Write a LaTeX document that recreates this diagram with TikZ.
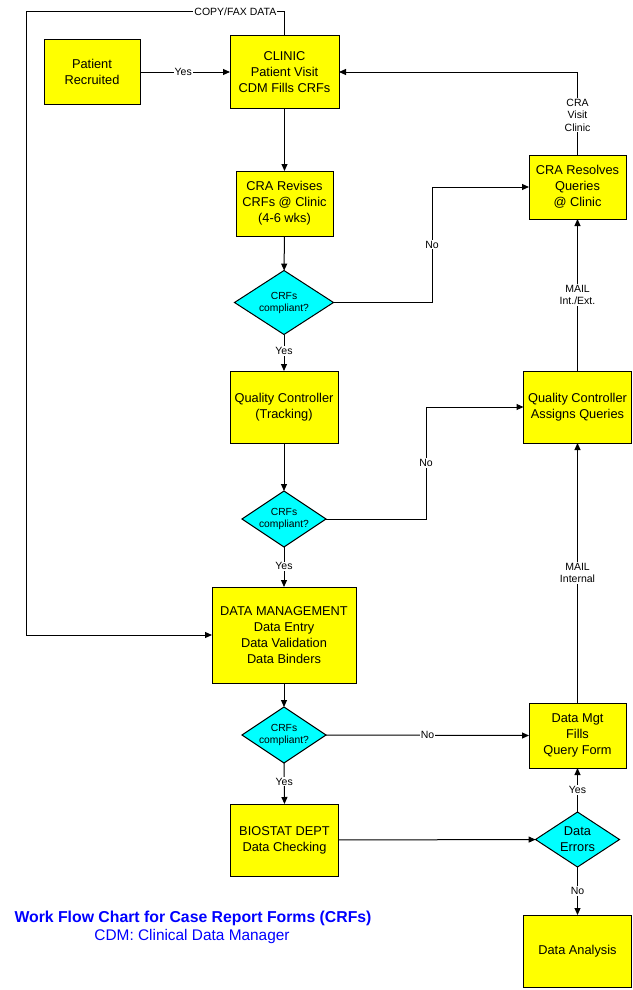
\documentclass[tikz,border=0pt]{standalone}
\usepackage{fontspec}
\setmainfont{Liberation Sans}
\usetikzlibrary{shapes.geometric,arrows.meta}
\definecolor{boxyellow}{RGB}{255,255,0}
\definecolor{dcyan}{RGB}{0,255,255}
\definecolor{ttlblue}{RGB}{0,0,255}
\tikzset{
  box/.style={draw, fill=boxyellow, line width=1pt, align=center, inner sep=0pt, outer sep=0pt,
    font=\fontsize{12.8}{16}\selectfont},
  dec/.style={draw, fill=dcyan, diamond, line width=1pt, inner sep=0pt, outer sep=0pt,
    label={[align=center, inner sep=0pt, font=\fontsize{10.3}{12}\selectfont]center:#1}},
  bigdec/.style={draw, fill=dcyan, diamond, line width=1pt, inner sep=0pt, outer sep=0pt,
    label={[align=center, inner sep=0pt, font=\fontsize{12.8}{16}\selectfont]center:#1}},
  lbl/.style={fill=white, inner sep=1pt, align=center, font=\fontsize{10.5}{12.5}\selectfont},
  conn/.style={line width=1pt, -{Triangle[length=7pt,width=6pt]}}
}
\begin{document}
\begin{tikzpicture}[x=1pt,y=-1pt]
\useasboundingbox (0,0) rectangle (632,990);
% boxes
\node[box, minimum width=96, minimum height=64] (pr) at (92,72) {Patient\\Recruited};
\node[box, minimum width=109, minimum height=72] (clinic) at (284.5,72) {CLINIC\\Patient Visit\\CDM Fills CRFs};
\node[box, minimum width=97, minimum height=65] (cra) at (284.5,203.5) {CRA Revises\\CRFs @ Clinic\\(4-6 wks)};
\node[dec={CRFs\\compliant?}, minimum width=99, minimum height=64] (d1) at (284,302.5) {};
\node[box, minimum width=108, minimum height=72] (qct) at (284,407) {Quality Controller\\(Tracking)};
\node[dec={CRFs\\compliant?}, minimum width=84, minimum height=56] (d2) at (284,519) {};
\node[box, minimum width=144, minimum height=96] (dm) at (284,635) {DATA MANAGEMENT\\Data Entry\\Data Validation\\Data Binders};
\node[dec={CRFs\\compliant?}, minimum width=84, minimum height=56] (d3) at (284,735) {};
\node[box, minimum width=108, minimum height=72] (bio) at (284.5,840) {BIOSTAT DEPT\\Data Checking};
\node[box, minimum width=97, minimum height=64] (cres) at (577.5,187) {CRA Resolves\\Queries\\@ Clinic};
\node[box, minimum width=108, minimum height=72] (qca) at (577.5,407) {Quality Controller\\Assigns Queries};
\node[box, minimum width=97, minimum height=65] (dmf) at (577.5,735.5) {Data Mgt\\Fills\\Query Form};
\node[bigdec={Data\\Errors}, minimum width=84, minimum height=55] (de) at (577.5,839.5) {};
\node[box, minimum width=108, minimum height=72] (da) at (577.5,951) {Data Analysis};
% helper coordinates
\coordinate (c1) at (284.5,12);
\coordinate (c2) at (26,12);
\coordinate (c3) at (26,635);
\coordinate (n1) at (432,302.5);
\coordinate (n2) at (426,519);
\coordinate (v1) at (577.5,72);
% connectors
\draw[conn] (pr) -- node[lbl, pos=0.48]{Yes} (clinic);
\draw[conn] (clinic.north) -- (c1) -- node[lbl, pos=0.19]{COPY/FAX DATA} (c2) -- (c3) -- (dm.west);
\draw[conn] (clinic) -- (cra);
\draw[conn] (cra) -- (d1);
\draw[conn] (d1.east) -- (n1) -- node[lbl, pos=0.5]{No} (n1 |- cres.west) -- (cres.west);
\draw[conn] (d1.south) -- node[lbl, pos=0.45]{Yes} (qct.north);
\draw[conn] (qct) -- (d2);
\draw[conn] (d2.east) -- (n2) -- node[lbl, pos=0.5]{No} (n2 |- qca.west) -- (qca.west);
\draw[conn] (d2.south) -- node[lbl, pos=0.48]{Yes} (dm.north);
\draw[conn] (dm) -- (d3);
\draw[conn] (d3.east) -- node[lbl, pos=0.5]{No} (dmf.west);
\draw[conn] (d3.south) -- node[lbl, pos=0.45]{Yes} (bio.north);
\draw[conn] (bio) -- (de);
\draw[conn] (de.north) -- node[lbl, pos=0.5]{Yes} (dmf.south);
\draw[conn] (de.south) -- node[lbl, pos=0.5]{No} (da.north);
\draw[conn] (dmf.north) -- node[lbl, pos=0.5]{MAIL\\Internal} (qca.south);
\draw[conn] (qca.north) -- node[lbl, pos=0.5]{MAIL\\Int./Ext.} (cres.south);
\draw[conn] (cres.north) -- node[lbl, pos=0.48]{CRA\\Visit\\Clinic} (v1) -- (clinic.east);
% title
\node[anchor=base, text=ttlblue, font=\fontsize{15.8}{19}\selectfont\bfseries, inner sep=0pt] (ttl) at (193,922) {Work Flow Chart for Case Report Forms (CRFs)};
\node[anchor=base, text=ttlblue, font=\fontsize{15.4}{19}\selectfont, inner sep=0pt] (sub) at (192,940.5) {CDM: Clinical Data Manager};
\end{tikzpicture}
\end{document}
